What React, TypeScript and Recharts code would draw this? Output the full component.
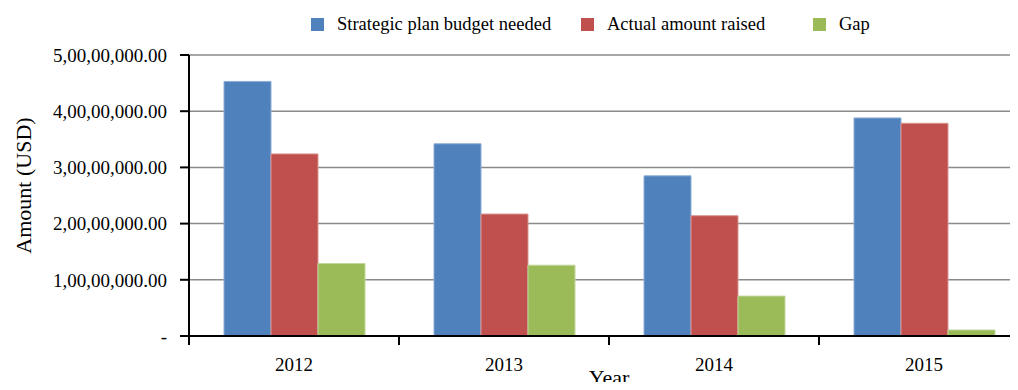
import React from "react";
import { BarChart, Bar, XAxis, YAxis, CartesianGrid, Legend } from "recharts";

const years = ["2012", "2013", "2014", "2015"];
const budgetNeeded = [45300000, 34200000, 28500000, 38800000];
const amountRaised = [32400000, 21700000, 21400000, 37850000];
const gap = [12900000, 12600000, 7100000, 1070000];
const yTicks = [0, 10000000, 20000000, 30000000, 40000000, 50000000];
const seriesOrder = ["Strategic plan budget needed", "Actual amount raised", "Gap"];

const data = years.map((year, i) => ({
  year,
  needed: budgetNeeded[i],
  raised: amountRaised[i],
  gap: gap[i],
}));

const FONT = "'Liberation Serif', 'Times New Roman', serif";
const legendWidths = [270, 232, 80];

// Indian digit grouping: 5,00,00,000.00
function formatAmount(v: number) {
  if (v === 0) return "-";
  const [whole, dec] = v.toFixed(2).split(".");
  const last3 = whole.slice(-3);
  const rest = whole.slice(0, -3).replace(/\B(?=(\d{2})+(?!\d))/g, ",");
  return (rest ? rest + "," : "") + last3 + "." + dec;
}

// tick mark sits on the category boundary, label in the middle
const YearTick = (props: any) => {
  const { x, y, payload } = props;
  const left = x - (payload.offset || 0);
  const axisY = y - 8;
  return (
    <g>
      <line x1={left} y1={axisY} x2={left} y2={axisY + 9} stroke="#000" strokeWidth={2} />
      <text x={x} y={axisY + 35} textAnchor="middle" fontSize={19} fontFamily={FONT} fill="#000">
        {payload.value}
      </text>
    </g>
  );
};

const LegendContent = (props: any) => {
  const payload = [...(props.payload || [])].sort(
    (a: any, b: any) => seriesOrder.indexOf(a.value) - seriesOrder.indexOf(b.value)
  );
  return (
    <div style={{ display: "flex", fontFamily: FONT, fontSize: 18.5, color: "#000", whiteSpace: "nowrap" }}>
      {payload.map((p: any, i: number) => (
        <div key={p.value} style={{ display: "flex", alignItems: "center", width: legendWidths[i], flexShrink: 0 }}>
          <span style={{ width: 13, height: 13, background: p.color, display: "inline-block", marginRight: 13, flexShrink: 0 }} />
          <span>{p.value}</span>
        </div>
      ))}
    </div>
  );
};

export default function App() {
  return (
    <div style={{ margin: -8, width: 1018, height: 390, overflow: "hidden", background: "#fff" }}>
      <BarChart
        width={1040}
        height={390}
        data={data}
        margin={{ top: 55, right: 11, bottom: 0, left: 0 }}
        barCategoryGap={35}
        barGap={0}
      >
        <CartesianGrid vertical={false} stroke="#8a8a8a" strokeWidth={1.5} />
        <XAxis
          dataKey="year"
          height={54}
          axisLine={{ stroke: "#000", strokeWidth: 2 }}
          tickLine={false}
          tick={<YearTick />}
          interval={0}
          label={{
            content: (p: any) => {
              const vb = p.viewBox || { x: 189, width: 840 };
              return (
                <text x={vb.x + vb.width / 2} y={385} textAnchor="middle" fontSize={22} fontFamily={FONT} fill="#000">
                  Year
                </text>
              );
            },
          }}
        />
        <YAxis
          width={189}
          domain={[0, 50000000]}
          ticks={yTicks}
          interval={0}
          tickFormatter={formatAmount}
          axisLine={{ stroke: "#000", strokeWidth: 2 }}
          tickLine={{ stroke: "#000", strokeWidth: 2 }}
          tickSize={9}
          tickMargin={13}
          tick={{ fontSize: 19, fontFamily: FONT, fill: "#000" }}
          label={{
            content: (p: any) => {
              const vb = p.viewBox || { x: 0, y: 55, height: 281 };
              const cx = 23;
              const cy = vb.y + vb.height / 2 - 10;
              return (
                <text
                  x={cx}
                  y={cy}
                  transform={`rotate(-90 ${cx} ${cy})`}
                  textAnchor="middle"
                  dominantBaseline="central"
                  fontSize={22}
                  fontFamily={FONT}
                  fill="#000"
                >
                  Amount (USD)
                </text>
              );
            },
          }}
        />
        <Legend
          verticalAlign="middle"
          layout="horizontal"
          wrapperStyle={{ top: 14, left: 311, width: 640 }}
          content={<LegendContent />}
        />
        <Bar dataKey="needed" name="Strategic plan budget needed" fill="#4F81BD" stroke="#8EADD6" strokeWidth={1} isAnimationActive={false} />
        <Bar dataKey="raised" name="Actual amount raised" fill="#C0504D" stroke="#D99593" strokeWidth={1} isAnimationActive={false} />
        <Bar dataKey="gap" name="Gap" fill="#9BBB59" stroke="#C2D69B" strokeWidth={1} isAnimationActive={false} />
      </BarChart>
    </div>
  );
}
